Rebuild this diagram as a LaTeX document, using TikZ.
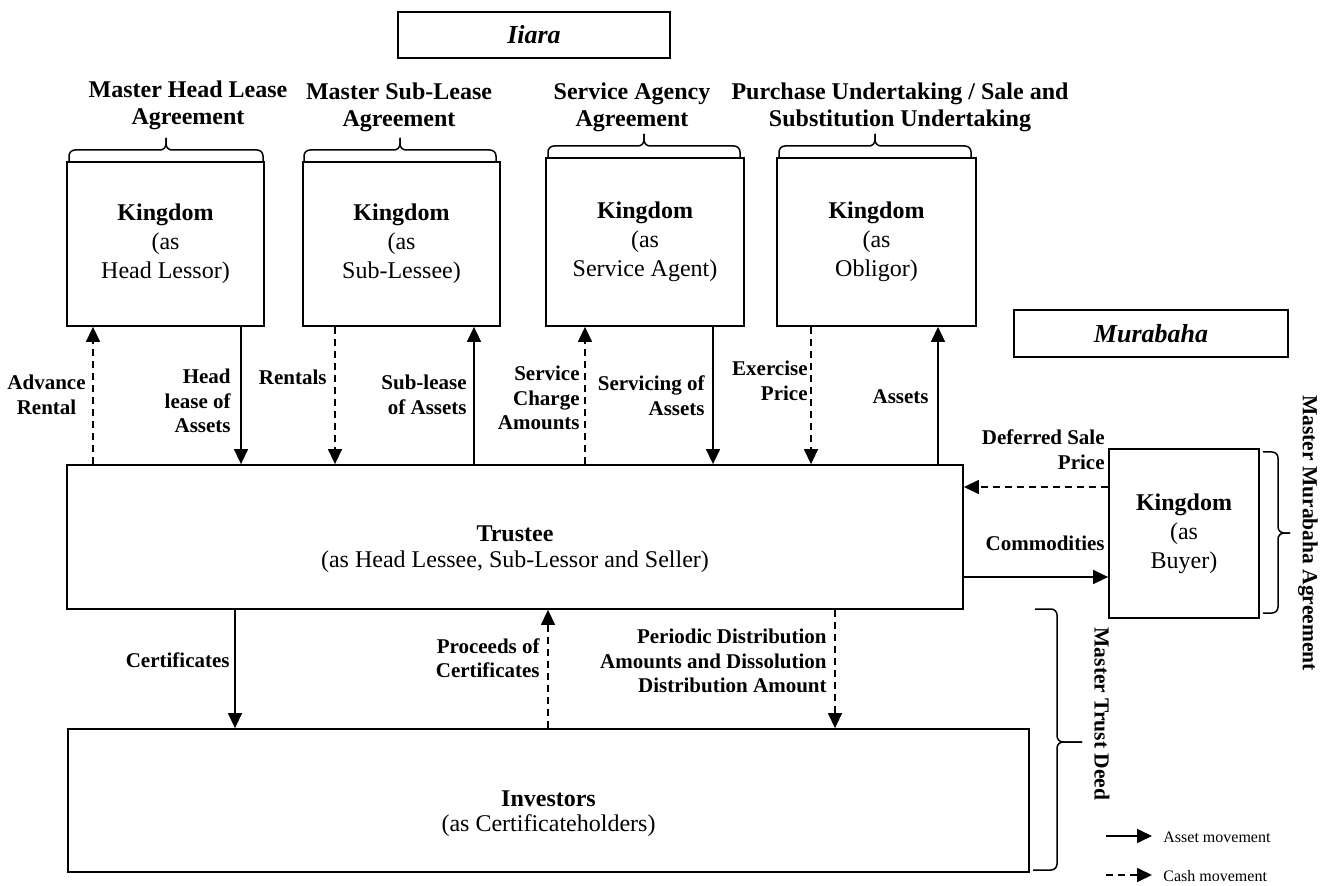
\documentclass[tikz,border=0pt]{standalone}
\usepackage{fontspec}
\setmainfont{Liberation Serif}
\usetikzlibrary{arrows.meta}

\begin{document}
\begin{tikzpicture}[
    x=0.5pt, y=-0.5pt,
    >={Triangle[length=7.5pt,width=7pt]},
    partybox/.style={draw, line width=0.9pt, inner sep=0pt, align=center, font={\fontsize{12}{14.5}\selectfont}},
    maintext/.style={inner sep=0pt, align=center, font={\fontsize{12}{12.75}\selectfont}},
    titlebox/.style={draw, line width=0.9pt, inner sep=0pt, font={\fontsize{13}{15}\selectfont\bfseries\itshape}},
    titletext/.style={inner sep=0pt, align=center, font={\fontsize{12}{13.5}\selectfont\bfseries}},
    flowlabel/.style={anchor=east, inner sep=0pt, align=right, font={\fontsize{10.5}{12.25}\selectfont\bfseries}},
    sidetext/.style={rotate=-90, inner sep=0pt, font={\fontsize{10.75}{12}\selectfont\bfseries}},
    legendtext/.style={anchor=west, inner sep=0pt, font={\fontsize{8}{9}\selectfont}},
    asset/.style={->, line width=0.75pt},
    cash/.style={->, line width=0.75pt, dash pattern=on 3.5pt off 2.5pt},
    bracket/.style={line width=0.75pt, rounded corners=3pt}
]
\useasboundingbox (0,0) rectangle (1325,886);

% headings
\node[titlebox, minimum width=136pt, minimum height=23pt] (ijara) at (534,35) {Iiara};
\node[titlebox, minimum width=137pt, minimum height=23.5pt] (murabaha) at (1151,333.5) {Murabaha};

\node[titletext] (headlease) at (188,105) {Master Head Lease\\Agreement};
\node[titletext] (sublease) at (399,107) {Master Sub-Lease\\Agreement};
\node[titletext] (agency) at (632,107) {Service Agency\\Agreement};
\node[titletext] (undertaking) at (900,107) {Purchase Undertaking / Sale and\\Substitution Undertaking};

% parties
\node[partybox, minimum width=98.5pt, minimum height=82pt] (lessor) at (165.5,244) {\textbf{Kingdom}\\(as\\Head Lessor)};
\node[partybox, minimum width=98.5pt, minimum height=82pt] (sublessee) at (401.5,244) {\textbf{Kingdom}\\(as\\Sub-Lessee)};
\node[partybox, minimum width=99pt, minimum height=84pt] (agent) at (645,242) {\textbf{Kingdom}\\(as\\Service Agent)};
\node[partybox, minimum width=99.5pt, minimum height=84pt] (obligor) at (876.5,242) {\textbf{Kingdom}\\(as\\Obligor)};
\node[partybox, minimum width=75pt, minimum height=84.5pt] (buyer) at (1184,533.5) {\textbf{Kingdom}\\(as\\Buyer)};

\node[partybox, minimum width=448pt, minimum height=72pt] (trustee) at (515,537) {};
\node[maintext] (trusteetext) at ([yshift=-6pt]trustee.center) {\textbf{Trustee}\\(as Head Lessee, Sub-Lessor and Seller)};
\node[partybox, minimum width=480.5pt, minimum height=71.5pt] (investors) at (548.5,800.5) {};
\node[maintext] (investorstext) at ([yshift=-6.5pt]investors.center) {\textbf{Investors}\\(as Certificateholders)};

% braces
\foreach \xa/\xb/\yb in {69/263/162, 304/496/162, 548/740/158, 779/971/158} {
  \pgfmathsetmacro\xm{(\xa+\xb)/2}
  \draw[bracket] (\xa,\yb) -- (\xa,\yb-12) -- (\xm,\yb-12) -- (\xm,\yb-24);
  \draw[bracket] (\xm,\yb-24) -- (\xm,\yb-12) -- (\xb,\yb-12) -- (\xb,\yb);
}
\draw[bracket] (1263,452) -- (1278,452) -- (1278,533) -- (1290,533);
\draw[bracket] (1290,533) -- (1278,533) -- (1278,613) -- (1263,613);
\draw[bracket] (1035,609) -- (1057,609) -- (1057,742) -- (1082,742);
\draw[bracket] (1082,742) -- (1057,742) -- (1057,870) -- (1033,870);

\node[sidetext] (murabahadeed) at (1308,533) {Master Murabaha Agreement};
\node[sidetext] (trustdeed) at (1102,714) {Master Trust Deed};

% flows
\draw[cash] (trustee.north -| 93,0) -- (lessor.south -| 93,0);
\draw[asset] (lessor.south -| 241,0) -- (trustee.north -| 241,0);
\draw[cash] (sublessee.south -| 335,0) -- (trustee.north -| 335,0);
\draw[asset] (trustee.north -| 474,0) -- (sublessee.south -| 474,0);
\draw[cash] (trustee.north -| 585,0) -- (agent.south -| 585,0);
\draw[asset] (agent.south -| 713,0) -- (trustee.north -| 713,0);
\draw[cash] (obligor.south -| 811,0) -- (trustee.north -| 811,0);
\draw[asset] (trustee.north -| 938,0) -- (obligor.south -| 938,0);
\draw[cash] (buyer.west |- 0,487) -- (trustee.east |- 0,487);
\draw[asset] (trustee.east |- 0,577) -- (buyer.west |- 0,577);
\draw[asset] (trustee.south -| 235,0) -- (investors.north -| 235,0);
\draw[cash] (investors.north -| 548,0) -- (trustee.south -| 548,0);
\draw[cash] (trustee.south -| 835,0) -- (investors.north -| 835,0);

\node[flowlabel, align=center] (advlbl) at (86,395) {Advance\\Rental};
\node[flowlabel] (headlbl) at (231,401) {Head\\lease of\\Assets};
\node[flowlabel] (rentlbl) at (327,377) {Rentals};
\node[flowlabel] (sublbl) at (467,395) {Sub-lease\\of Assets};
\node[flowlabel] (chargelbl) at (580,398) {Service\\Charge\\Amounts};
\node[flowlabel] (servlbl) at (705,395.5) {Servicing of\\Assets};
\node[flowlabel] (exerlbl) at (808,381) {Exercise\\Price};
\node[flowlabel] (assetlbl) at (929,397) {Assets};
\node[flowlabel] (deferlbl) at (1105,449.5) {Deferred Sale\\Price};
\node[flowlabel] (commlbl) at (1105,543) {Commodities};
\node[flowlabel] (certlbl) at (230,660) {Certificates};
\node[flowlabel] (proclbl) at (540,658) {Proceeds of\\Certificates};
\node[flowlabel] (distlbl) at (827,661) {Periodic Distribution\\Amounts and Dissolution\\Distribution Amount};

% legend
\coordinate (assetfrom) at (1106,836);
\coordinate (assetto) at (1152,836);
\coordinate (cashfrom) at (1106,875);
\coordinate (cashto) at (1152,875);
\draw[asset] (assetfrom) -- (assetto);
\draw[cash] (cashfrom) -- (cashto);
\node[legendtext] (assetkey) at (1163,837) {Asset movement};
\node[legendtext] (cashkey) at (1163,876) {Cash movement};

\end{tikzpicture}
\end{document}
